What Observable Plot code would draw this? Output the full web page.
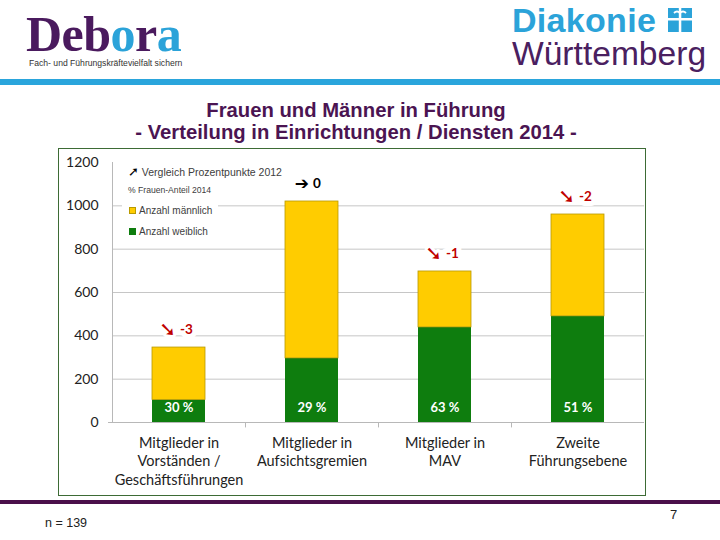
<!DOCTYPE html>
<html><head><meta charset="utf-8">
<script src="https://cdn.jsdelivr.net/npm/d3@7"></script>
<script src="https://cdn.jsdelivr.net/npm/@observablehq/plot@0.6"></script>
<style>
body{margin:0;width:720px;height:540px;position:relative;background:#fff;overflow:hidden;font-family:"Liberation Sans",Arial,sans-serif;}
.abs{position:absolute;white-space:nowrap;}
.ib{display:inline-block;}
#chart{position:absolute;left:58px;top:148px;width:586px;height:346px;border:1px solid #3d6b35;}
#chart svg{display:block;}
.leg{position:absolute;font-family:"Liberation Sans",Arial,sans-serif;color:#404040;font-size:10.5px;line-height:1;}
.sq{display:inline-block;width:7px;height:7px;margin-right:3px;vertical-align:0px;}
</style></head><body>

<div class="abs" style="left:26px;top:14px;height:40px;font-family:'Liberation Serif',serif;font-weight:bold;font-size:50px;line-height:40px;letter-spacing:-0.5px"><span class="ib" style="color:#4a1a5e">Deb</span><span class="ib" style="color:#2ba3d9">o</span><span class="ib" style="color:#4a1a5e">r</span><span class="ib" style="color:#2ba3d9">a</span></div>
<div class="abs" style="left:29px;top:58px;font-size:8.6px;line-height:10px;color:#333;">Fach- und Führungskräftevielfalt sichern</div>

<div class="abs" style="left:512px;top:6px;height:28px;font-size:34px;font-weight:bold;color:#2ba3d9;line-height:28px;letter-spacing:0.3px;"><span class="ib">Diakonie</span></div>
<svg class="abs" style="left:668px;top:8px" width="24" height="24" viewBox="0 0 24 24">
  <rect width="24" height="24" fill="#2ba3d9"/>
  <rect x="0" y="10" width="24" height="2.5" fill="#fff"/>
  <rect x="10.8" y="0" width="2.5" height="24" fill="#fff"/>
  <path d="M6 5 q3 -3 6 0 q3 -3 6 0" stroke="#fff" stroke-width="1.8" fill="none"/>
</svg>
<div class="abs" style="left:512px;top:39px;height:30px;font-size:33.6px;color:#4a2060;line-height:30px;"><span class="ib">Württemberg</span></div>

<div class="abs" style="left:0;top:79px;width:720px;height:6px;background:#2aa5dc"></div>

<div class="abs" style="left:0;width:712px;top:99px;text-align:center;transform:scaleX(0.965);transform-origin:356px 0;font-weight:bold;font-size:21px;line-height:22px;color:#4b1452;">Frauen und Männer in Führung<br>- Verteilung in Einrichtungen / Diensten 2014 -</div>

<div id="chart"></div>

<div class="abs" style="left:122px;top:160px;width:96px;height:80px;background:#fff;"></div>
<div class="leg" style="left:128px;top:165px;"><span style="color:#000;font-weight:bold;font-family:'DejaVu Sans';font-size:13px">➚</span> Vergleich Prozentpunkte 2012</div>
<div class="leg" style="left:128px;top:186px;font-size:8.6px;">% Frauen-Anteil 2014</div>
<div class="leg" style="left:129px;top:206px;font-size:10px;"><span class="sq" style="background:#ffcc00;border:0.5px solid #b89a00;box-sizing:border-box"></span>Anzahl männlich</div>
<div class="leg" style="left:129px;top:227px;font-size:10px;"><span class="sq" style="background:#0e7d0e"></span>Anzahl weiblich</div>

<div class="abs" style="left:0;top:500px;width:720px;height:4px;background:#4a0f4a"></div>
<div class="abs" style="left:45px;top:516px;font-size:12.5px;color:#222;">n = 139</div>
<div class="abs" style="left:670px;top:507px;font-size:13px;color:#222;">7</div>

<script>
const categories = ["Mitglieder in\nVorständen /\nGeschäftsführungen", "Mitglieder in\nAufsichtsgremien", "Mitglieder in\nMAV", "Zweite\nFührungsebene"];
const female = [104, 296, 439, 490];
const male = [242, 724, 258, 470];
const womenSharePct = [30, 29, 63, 51];
const changePoints = [-3, 0, -1, -2];
const yTicks = [0, 200, 400, 600, 800, 1000, 1200];
const gridValues = [200, 400, 600, 800, 1000];

const rows = categories.map((c, i) => ({
  cat: c, female: female[i], male: male[i], total: female[i] + male[i],
  share: womenSharePct[i], change: changePoints[i]
}));

const W = 586, H = 346, mL = 53, mR = 1, mT = 13, mB = 73;
const step = (W - mL - mR) / categories.length;
const font = "Lato, 'Open Sans', sans-serif";
const arrowGlyph = d => d.change === 0 ? "➔" : (d.change < 0 ? "➘" : "➚");
const changeText = d => (d.change > 0 ? "+" : "") + d.change;
const arrowColor = d => d.change === 0 ? "#000000" : "#c00000";

const chart = Plot.plot({
  width: W, height: H,
  marginLeft: mL, marginRight: mR, marginTop: mT, marginBottom: mB,
  style: {fontFamily: font, background: "white", overflow: "visible"},
  x: {domain: categories, paddingInner: 0.6, paddingOuter: 0.3, label: null},
  y: {domain: [0, 1200], label: null},
  marks: [
    Plot.ruleY(gridValues, {stroke: "#c6c6c6", strokeWidth: 1}),
    Plot.frame({anchor: "left", stroke: "#b8b8b8"}),
    Plot.ruleY([0], {stroke: "#b8b8b8", insetLeft: -4}),
    Plot.ruleX(categories.slice(1), {x: d => d, dx: -step / 2, y1: 0, y2: -25, stroke: "#b8b8b8"}),
    Plot.barY(rows, {x: "cat", y1: 0, y2: "female", fill: "#0e7d0e"}),
    Plot.barY(rows, {x: "cat", y1: "female", y2: "total", fill: "#ffcc00", stroke: "#b89a00", strokeWidth: 0.8}),
    Plot.text(rows, {x: "cat", y: 0, dy: -15, text: d => d.share + " %", fill: "white", fontWeight: "bold", fontSize: 13}),
    Plot.text(rows, {x: "cat", y: "total", dy: -18, dx: 1, textAnchor: "start", text: changeText, fill: arrowColor, fontWeight: "bold", fontSize: 13.5, stroke: "white", strokeWidth: 10}),
    Plot.text(rows, {x: "cat", y: "total", dy: -18, dx: -3, textAnchor: "end", text: arrowGlyph, fill: arrowColor, fontFamily: "DejaVu Sans", fontWeight: "bold", fontSize: d => d.change === 0 ? 17 : 20, stroke: "white", strokeWidth: 6}),
    Plot.axisY({ticks: yTicks, tickFormat: d => String(d), tickSize: 0, tickPadding: 14, fontSize: 14, fill: "#222"}),
    Plot.axisX({tickSize: 0, tickPadding: 12, fontSize: 14.5, lineHeight: 1.28, fill: "#222"})
  ]
});
document.getElementById("chart").appendChild(chart);
</script>
</body></html>
